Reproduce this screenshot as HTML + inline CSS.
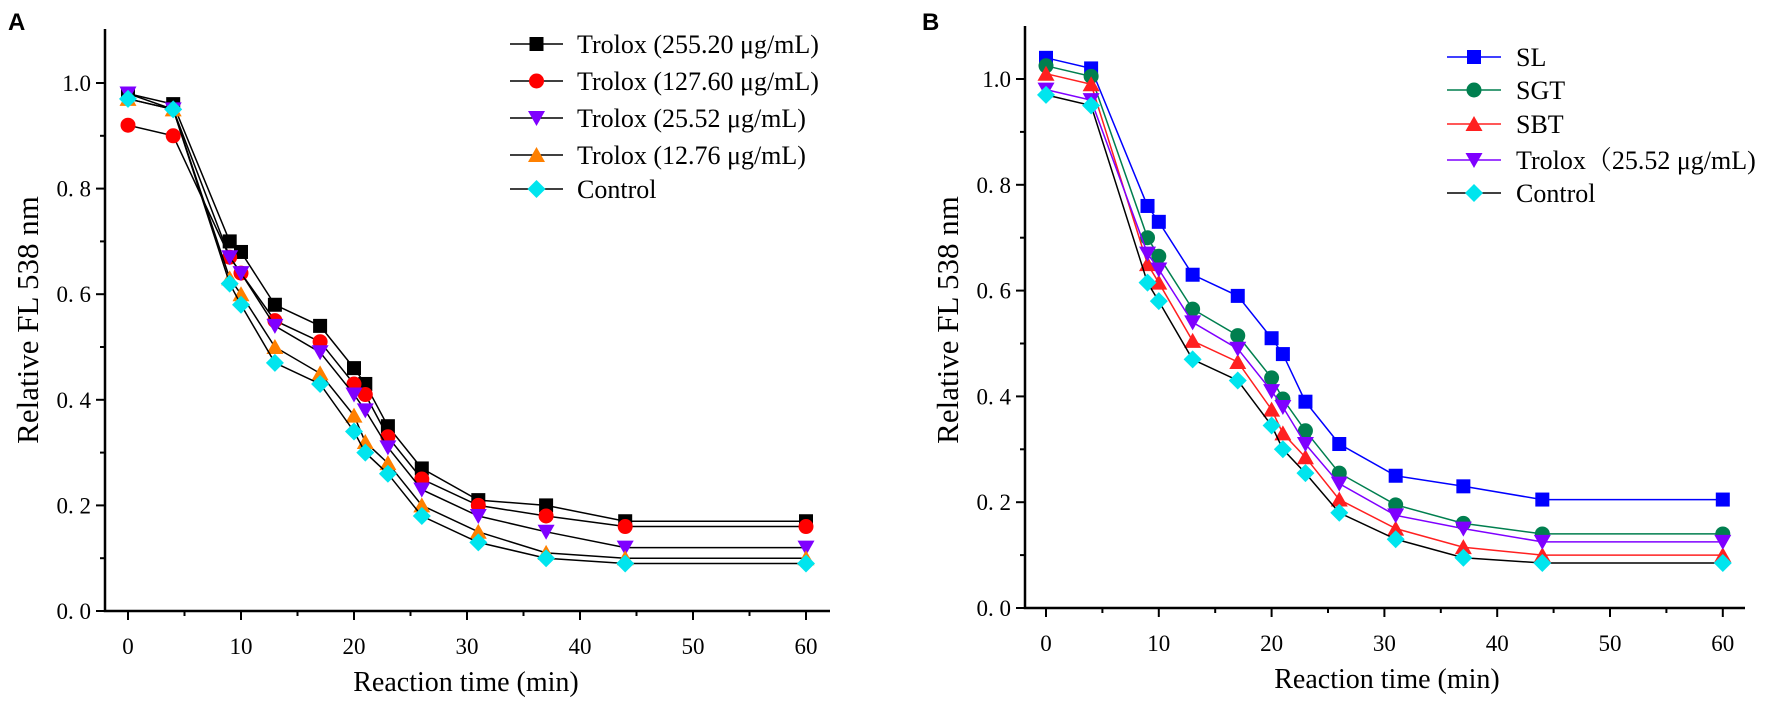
<!DOCTYPE html>
<html><head><meta charset="utf-8"><style>
html,body{margin:0;padding:0;background:#fff;}
svg{display:block;}
text{font-family:"Liberation Serif","Noto Serif CJK SC",serif;fill:#000;}
</style></head><body>
<svg id="fig" width="1772" height="709" viewBox="0 0 1772 709" xmlns="http://www.w3.org/2000/svg">
<text x="8" y="30" style="font-family:'Liberation Sans',sans-serif;font-weight:bold;font-size:24px">A</text>
<text x="922" y="30" style="font-family:'Liberation Sans',sans-serif;font-weight:bold;font-size:24px">B</text>
<g id="panelA"></g>
<g id="panelB"></g>
</svg>
<script>
const times = [0,4,9,10,13,17,20,21,23,26,31,37,44,60];
const xTicks = [0,10,20,30,40,50,60];
const yTicks = [0.0,0.2,0.4,0.6,0.8,1.0];
const yTickLabels = ["0. 0","0. 2","0. 4","0. 6","0. 8","1.0"];
// Panel A
const aNames = ["Trolox (255.20 μg/mL)","Trolox (127.60 μg/mL)","Trolox (25.52 μg/mL)","Trolox (12.76 μg/mL)","Control"];
const aTrolox255 = [0.98,0.96,0.70,0.68,0.58,0.54,0.46,0.43,0.35,0.27,0.21,0.20,0.17,0.17];
const aTrolox127 = [0.92,0.90,0.67,0.64,0.55,0.51,0.43,0.41,0.33,0.25,0.20,0.18,0.16,0.16];
const aTrolox25 = [0.98,0.95,0.67,0.64,0.54,0.49,0.41,0.38,0.31,0.23,0.18,0.15,0.12,0.12];
const aTrolox12 = [0.97,0.95,0.63,0.60,0.50,0.45,0.37,0.32,0.28,0.20,0.15,0.11,0.10,0.10];
const aControl = [0.97,0.95,0.62,0.58,0.47,0.43,0.34,0.30,0.26,0.18,0.13,0.10,0.09,0.09];
// Panel B
const bNames = ["SL","SGT","SBT","Trolox（25.52 μg/mL)","Control"];
const bSL = [1.04,1.02,0.76,0.73,0.63,0.59,0.51,0.48,0.39,0.31,0.25,0.23,0.205,0.205];
const bSGT = [1.025,1.005,0.70,0.665,0.565,0.515,0.435,0.395,0.335,0.255,0.195,0.16,0.14,0.14];
const bSBT = [1.01,0.99,0.65,0.615,0.505,0.465,0.375,0.33,0.285,0.205,0.15,0.115,0.10,0.10];
const bTrolox = [0.98,0.96,0.67,0.64,0.54,0.49,0.41,0.38,0.31,0.235,0.175,0.15,0.125,0.125];
const bControl = [0.97,0.95,0.615,0.58,0.47,0.43,0.345,0.30,0.255,0.18,0.13,0.095,0.085,0.085];

const NS="http://www.w3.org/2000/svg";
function mk(parent,tag,attrs){const e=document.createElementNS(NS,tag);for(const k in attrs)e.setAttribute(k,attrs[k]);parent.appendChild(e);return e;}

function marker(g,shape,cx,cy,fill){
  let e;
  if(shape==='square') e=mk(g,'rect',{x:cx-7,y:cy-7,width:14,height:14,fill:fill});
  else if(shape==='circle') e=mk(g,'circle',{cx:cx,cy:cy,r:7.5,fill:fill});
  else if(shape==='up') e=mk(g,'polygon',{points:`${cx},${cy-8} ${cx+8.5},${cy+7} ${cx-8.5},${cy+7}`,fill:fill});
  else if(shape==='down') e=mk(g,'polygon',{points:`${cx-8.5},${cy-7} ${cx+8.5},${cy-7} ${cx},${cy+8}`,fill:fill});
  else e=mk(g,'polygon',{points:`${cx},${cy-9} ${cx+9},${cy} ${cx},${cy+9} ${cx-9},${cy}`,fill:fill});
  return e;
}

function drawPanel(g,cfg){
  const X=t=>cfg.x0+t*cfg.xs;
  const Y=v=>cfg.y0-v*cfg.ys;
  const ax=mk(g,'path',{d:`M${cfg.ax},${cfg.top} V${cfg.y0} H${cfg.xEnd}`,stroke:'#000','stroke-width':2.5,fill:'none'});
  
  
  for(let i=0;i<=10;i++){
    const v=i*0.1, major=i%2===0;
    mk(g,'line',{x1:cfg.ax-(major?9:5),x2:cfg.ax,y1:Y(v),y2:Y(v),stroke:'#000','stroke-width':2});
  }
  yTicks.forEach((v,i)=>{
    const t=mk(g,'text',{x:cfg.ax-14,y:Y(v)+8,'text-anchor':'end','font-size':23});
    t.textContent=yTickLabels[i];
    
    
  });
  for(let t=0;t<=60;t+=5){
    const major=t%10===0;
    mk(g,'line',{x1:X(t),x2:X(t),y1:cfg.y0,y2:cfg.y0+(major?9:5),stroke:'#000','stroke-width':2});
  }
  xTicks.forEach(v=>{
    const t=mk(g,'text',{x:X(v),y:cfg.y0+43,'text-anchor':'middle','font-size':23});
    t.textContent=v;
    
    
  });
  const xt=mk(g,'text',{x:cfg.xTitleX,y:cfg.y0+80,'text-anchor':'middle','font-size':28});
  xt.textContent='Reaction time (min)';
  
  
  const yt=mk(g,'text',{x:0,y:0,'text-anchor':'middle','font-size':31,transform:`translate(${cfg.yTitleX},${cfg.yTitleY}) rotate(-90)`});
  yt.textContent='Relative FL 538 nm';
  
  
  cfg.series.forEach((s,si)=>{
    const sg=mk(g,'g',{});
    
    
    const pts=times.map((t,i)=>`${X(t).toFixed(1)},${Y(s.vals[i]).toFixed(1)}`).join(' ');
    mk(sg,'polyline',{points:pts,fill:'none',stroke:s.line,'stroke-width':1.5});
    times.forEach((t,i)=>{
      const m=marker(sg,s.shape,X(t),Y(s.vals[i]),s.fill);
      
      
    });
    const ly=cfg.legY[si];
    const lg=mk(g,'g',{});
    
    
    mk(lg,'line',{x1:cfg.legX1,x2:cfg.legX2,y1:ly,y2:ly,stroke:s.line,'stroke-width':1.5});
    marker(lg,s.shape,(cfg.legX1+cfg.legX2)/2,ly,s.fill);
    const lt=mk(lg,'text',{x:cfg.legTX,y:ly+9,'font-size':26});
    lt.textContent=s.name;
  });
}

drawPanel(document.getElementById('panelA'),{
  ax:105,top:29,y0:611,ys:528,x0:128,xs:11.3,xEnd:830,xTitleX:466,yTitleX:38,yTitleY:320,
  legX1:510,legX2:563,legTX:577,legY:[44,81,118,155,189],
  series:[
    {key:'trolox-255',name:aNames[0],vals:aTrolox255,shape:'square',fill:'#000',line:'#000'},
    {key:'trolox-127',name:aNames[1],vals:aTrolox127,shape:'circle',fill:'#f00',line:'#000'},
    {key:'trolox-25',name:aNames[2],vals:aTrolox25,shape:'down',fill:'#7f00ff',line:'#000'},
    {key:'trolox-12',name:aNames[3],vals:aTrolox12,shape:'up',fill:'#ff8000',line:'#000'},
    {key:'control',name:aNames[4],vals:aControl,shape:'diamond',fill:'#00e5ee',line:'#000'}
  ]
});
drawPanel(document.getElementById('panelB'),{
  ax:1025,top:26,y0:608,ys:529,x0:1046,xs:11.28,xEnd:1745,xTitleX:1387,yTitleX:958,yTitleY:320,
  legX1:1447,legX2:1501,legTX:1516,legY:[57,90,124,160,193],
  series:[
    {key:'sl',name:bNames[0],vals:bSL,shape:'square',fill:'#0000ff',line:'#0000ff'},
    {key:'sgt',name:bNames[1],vals:bSGT,shape:'circle',fill:'#007f4f',line:'#007f4f'},
    {key:'sbt',name:bNames[2],vals:bSBT,shape:'up',fill:'#ff2020',line:'#ff2020'},
    {key:'trolox',name:bNames[3],vals:bTrolox,shape:'down',fill:'#7f00ff',line:'#7f00ff'},
    {key:'control',name:bNames[4],vals:bControl,shape:'diamond',fill:'#00e5ee',line:'#000'}
  ]
});
</script>
</body></html>
